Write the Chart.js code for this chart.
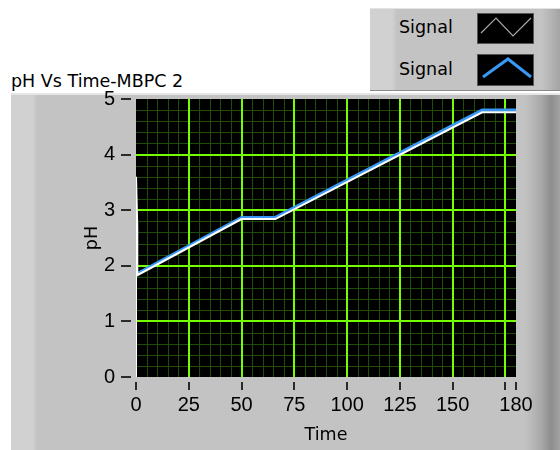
<!DOCTYPE html>
<html>
<head>
<meta charset="utf-8">
<script src="https://cdn.jsdelivr.net/npm/chart.js@4.4.1/dist/chart.umd.min.js"></script>
<style>
	body { margin: 0; width: 560px; height: 450px; background: #fff; position: relative; overflow: hidden; font-family: "DejaVu Sans", sans-serif; }
	#panel { position: absolute; left: 11px; top: 93px; width: 549px; height: 357px; border-top: 2px solid #e6e6e6;
		background: linear-gradient(to right, #d1d1d1 0px, #d1d1d1 22px, #c3c3c3 26px, #c3c3c3 514px, #a9a9a9 530px, #8d8d8d 540px, #a3a3a3 549px); }
	#title { position: absolute; left: 11px; top: 71px; font-size: 17.5px; line-height: 20px; color: #000; white-space: nowrap; }
	#legend { position: absolute; left: 370px; top: 8px; width: 190px; height: 81px; border-top: 1px solid #e4e4e4; border-bottom: 1px solid #8a8a8a;
		background: linear-gradient(to right, #d1d1d1 0px, #d1d1d1 22px, #c3c3c3 27px, #c3c3c3 172px, #a4a4a4 190px); }
	.lab { position: absolute; left: 29px; font-size: 17.5px; line-height: 20px; color: #000; }
	.swatch { position: absolute; left: 107px; }
	#myChart { position: absolute; left: 0; top: 0; }
</style>
</head>
<body>
<div id="panel"></div>
<div id="title">pH Vs Time-MBPC 2</div>
<canvas id="myChart" width="560" height="450"></canvas>
<div id="legend">
	<div class="lab" style="top:8px">Signal</div>
	<svg class="swatch" style="top:4px" width="57" height="31">
		<rect x="0.5" y="0.5" width="56" height="30" fill="#000" stroke="#555"/>
		<polyline points="4,20 19,5 36,23 54,5" fill="none" stroke="#a8a8a8" stroke-width="1.2"/>
	</svg>
	<div class="lab" style="top:50px">Signal</div>
	<svg class="swatch" style="top:45px" width="57" height="32">
		<rect x="0.5" y="0.5" width="56" height="31" fill="#000" stroke="#555"/>
		<polyline points="6,23 31,5 54,23" fill="none" stroke="#3a98f5" stroke-width="3"/>
	</svg>
</div>
<script>
// data (time, pH)
const whiteTime = [0, 0, 0.6, 0.6, 50, 66, 164, 180];
const whitePH = [0, 3.6, 2.7, 1.83, 2.84, 2.84, 4.76, 4.76];
const blueTime = [0.6, 50, 66, 164, 180];
const bluePH = [1.86, 2.87, 2.87, 4.8, 4.8];

const xTicks = [0, 25, 50, 75, 100, 125, 150, 175, 180];
const yTicks = [0, 1, 2, 3, 4, 5];
const xMinorStep = 5;
const yMinorStep = 0.2;

const majorGreen = '#74ff00';
const minorGreen = '#1d4d06';

function toPoints(xs, ys) {
	return xs.map((x, i) => ({ x: x, y: ys[i] }));
}

// black plot area, minor grid below the major one, LabVIEW style tick marks
const labviewPlot = {
	id: 'labviewPlot',
	beforeDraw(chart) {
		const ctx = chart.ctx;
		const a = chart.chartArea;
		const xs = chart.scales.x;
		const ys = chart.scales.y;
		ctx.save();
		ctx.fillStyle = '#000';
		ctx.fillRect(a.left, a.top, a.right - a.left, a.bottom - a.top);
		ctx.strokeStyle = minorGreen;
		ctx.lineWidth = 1;
		ctx.beginPath();
		for (let v = xMinorStep; v < xs.max; v += xMinorStep) {
			const px = Math.round(xs.getPixelForValue(v)) + 0.5;
			ctx.moveTo(px, a.top);
			ctx.lineTo(px, a.bottom);
		}
		for (let v = yMinorStep; v < ys.max - 0.01; v += yMinorStep) {
			const py = Math.round(ys.getPixelForValue(v)) + 0.5;
			ctx.moveTo(a.left, py);
			ctx.lineTo(a.right, py);
		}
		ctx.stroke();
		ctx.restore();
	},
	afterDraw(chart) {
		const ctx = chart.ctx;
		const a = chart.chartArea;
		ctx.save();
		ctx.strokeStyle = '#2a2a2a';
		ctx.lineWidth = 2;
		ctx.beginPath();
		yTicks.forEach(v => {
			const py = Math.round(chart.scales.y.getPixelForValue(v));
			ctx.moveTo(a.left - 15, py);
			ctx.lineTo(a.left - 5, py);
		});
		xTicks.forEach(v => {
			const px = Math.round(chart.scales.x.getPixelForValue(v));
			ctx.moveTo(px, a.bottom + 5);
			ctx.lineTo(px, a.bottom + 13);
		});
		ctx.stroke();
		ctx.restore();
	}
};

const ctx = document.getElementById('myChart');

const myChart = new Chart(ctx, {
	type: 'scatter',
	data: {
		datasets: [{
			label: 'Signal',
			data: toPoints(whiteTime, whitePH),
			showLine: true,
			borderColor: '#ffffff',
			backgroundColor: '#ffffff',
			borderWidth: 2,
			pointRadius: 0,
			tension: 0,
			clip: 0
		}, {
			label: 'Signal',
			data: toPoints(blueTime, bluePH),
			showLine: true,
			borderColor: '#3a98f5',
			backgroundColor: '#3a98f5',
			borderWidth: 3,
			pointRadius: 0,
			tension: 0,
			clip: 0
		}]
	},
	options: {
		responsive: false,
		animation: false,
		layout: { padding: { left: 80, top: 99, right: 44, bottom: 0 } },
		plugins: {
			legend: { display: false },
			tooltip: { enabled: false }
		},
		scales: {
			x: {
				type: 'linear',
				min: 0,
				max: 180,
				afterFit: (scale) => { scale.height = 73; },
				afterBuildTicks: (scale) => { scale.ticks = xTicks.map(v => ({ value: v })); },
				grid: {
					color: (c) => (c.tick && (c.tick.value === 0 || c.tick.value === 180)) ? 'rgba(0,0,0,0)' : majorGreen,
					lineWidth: 2,
					drawTicks: false
				},
				border: { display: false },
				ticks: {
					autoSkip: false,
					maxRotation: 0,
					padding: 16,
					color: '#000',
					font: { family: 'Liberation Sans', size: 20 },
					callback: (v) => v === 175 ? '' : v
				},
				title: {
					display: true,
					text: 'Time',
					color: '#000',
					font: { family: 'DejaVu Sans', size: 17.5 },
					padding: { top: 0, bottom: 4.5 }
				}
			},
			y: {
				min: 0,
				max: 5,
				afterFit: (scale) => { scale.width = 56; },
				afterBuildTicks: (scale) => { scale.ticks = yTicks.map(v => ({ value: v })); },
				grid: {
					color: (c) => (c.tick && (c.tick.value === 0 || c.tick.value === 5)) ? 'rgba(0,0,0,0)' : majorGreen,
					lineWidth: 2,
					drawTicks: false
				},
				border: { display: false },
				ticks: {
					padding: 21,
					color: '#000',
					font: { family: 'Liberation Sans', size: 20 }
				},
				title: {
					display: true,
					text: 'pH',
					color: '#000',
					font: { family: 'DejaVu Sans', size: 17.5 },
					padding: { top: 1.5, bottom: 0 }
				}
			}
		}
	},
	plugins: [labviewPlot]
});
</script>
</body>
</html>
